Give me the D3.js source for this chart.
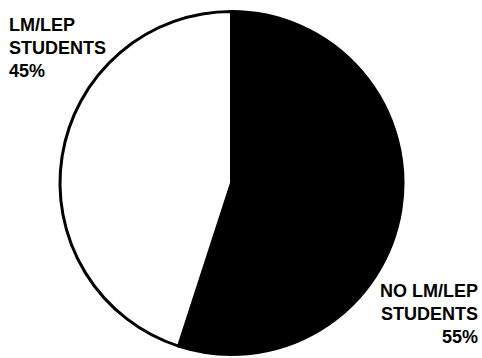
<!DOCTYPE html>
<html>
<head>
<meta charset="utf-8">
<script src="https://cdn.jsdelivr.net/npm/d3@7"></script>
<style>
  body { margin: 0; background: #fff; }
  svg text { font-family: "Liberation Sans", Arial, sans-serif; font-weight: bold; font-size: 18px; fill: #000; }
</style>
</head>
<body>
<svg class="chart"></svg>
<script>
// pie data
const categories = ["NO LM/LEP STUDENTS", "LM/LEP STUDENTS"];
const shares = [55, 45];
const sliceColors = ["#000", "#fff"];

// label lines, one array per slice
const labelLines = [
  ["NO LM/LEP", "STUDENTS", "55%"],
  ["LM/LEP", "STUDENTS", "45%"]
];

const width = 482;
const height = 358;

var svg = d3.select(".chart").attr("width", width).attr("height", height);

const cx = 231.5, cy = 183, radius = 171.5;

var pie = d3.pie().sort(null).value((d) => d.value);
var arc = d3.arc().innerRadius(0).outerRadius(radius);

const data = categories.map((c, i) => ({ name: c, value: shares[i], color: sliceColors[i] }));

const pieGroup = svg.append("g").attr("transform", `translate(${cx},${cy})`);

pieGroup
  .selectAll("path")
  .data(pie(data))
  .enter()
  .append("path")
  .attr("d", arc)
  .attr("fill", (d) => d.data.color)
  .attr("stroke", "#000")
  .attr("stroke-width", 3)
  .attr("stroke-linejoin", "round");

// labels: big slice bottom right (right aligned), small slice top left
const labelPos = [
  { x: 478, y: 297, anchor: "end" },
  { x: 9, y: 31, anchor: "start" }
];

labelLines.forEach((lines, i) => {
  const t = svg
    .append("text")
    .attr("x", labelPos[i].x)
    .attr("y", labelPos[i].y)
    .attr("text-anchor", labelPos[i].anchor);
  lines.forEach((l, j) => {
    t.append("tspan")
      .attr("x", labelPos[i].x)
      .attr("y", labelPos[i].y + j * 23)
      .text(l);
  });
});
</script>
</body>
</html>
